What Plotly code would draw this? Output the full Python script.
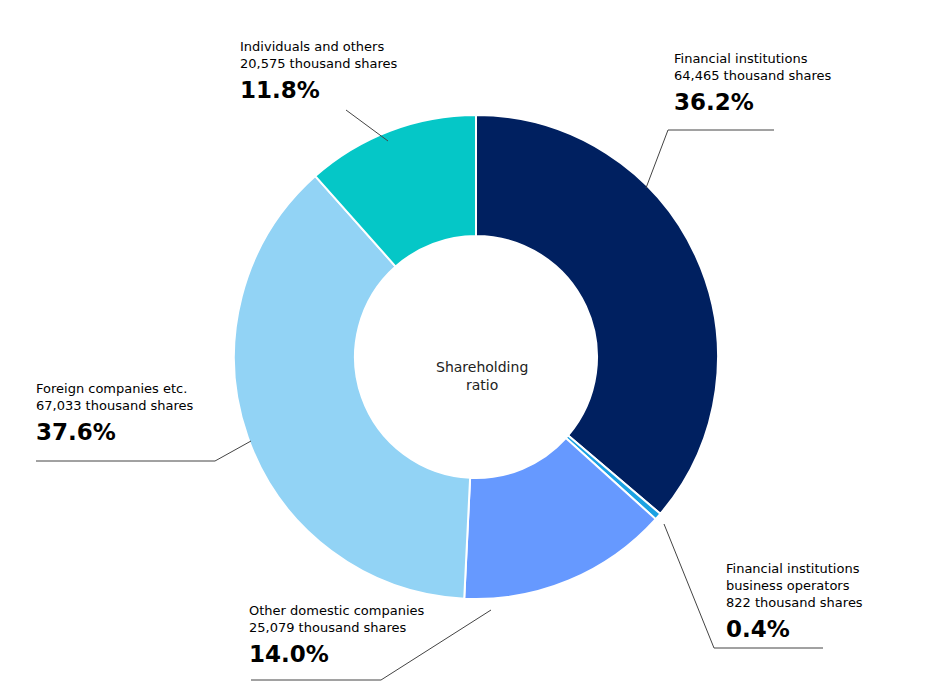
import plotly.graph_objects as go

W, H = 928, 691
categories = ["Financial institutions", "Financial institutions<br>business operators",
              "Other domestic companies", "Foreign companies etc.", "Individuals and others"]
shares = [64465, 822, 25079, 67033, 20575]
pct_labels = ["36.2%", "0.4%", "14.0%", "37.6%", "11.8%"]
colors = ["#002060", "#1BA1E2", "#6699FF", "#92D3F5", "#05C7C7"]

# label top-left positions (px) and leader line polylines (px)
label_pos = [(664, 41), (716, 551), (239, 593), (26, 371), (230, 29)]
leaders = [[(638, 180), (660, 122), (766, 122)],
           [(656, 516), (706, 640), (815, 640)],
           [(483, 602), (373, 672), (243, 672)],
           [(243, 433), (207, 453), (28, 453)],
           [(380, 133), (338, 102)]]

def px(x, y):
    return x / W, 1 - y / H

fig = go.Figure(go.Pie(
    values=shares, labels=categories, sort=False, direction="clockwise", rotation=0,
    hole=0.5, marker=dict(colors=colors, line=dict(color="white", width=2)),
    textinfo="none", hoverinfo="label+value+percent",
    domain=dict(x=[226 / W, 710 / W], y=[1 - 591 / H, 1 - 107 / H]),
))

font = "DejaVu Sans, Verdana, sans-serif"
for cat, val, pct, (lx, ly), pts in zip(categories, shares, pct_labels, label_pos, leaders):
    nlines = cat.count("<br>") + 2
    x, y = px(lx, ly)
    fig.add_annotation(
        x=x, y=y, xref="paper", yref="paper", xanchor="left", yanchor="top",
        align="left", showarrow=False,
        text=f"{cat}<br>{val:,} thousand shares",
        font=dict(family=font, color="#000", size=13))
    x2, y2 = px(lx, ly + 17 * nlines + 4)
    fig.add_annotation(
        x=x2, y=y2, xref="paper", yref="paper", xanchor="left", yanchor="top",
        showarrow=False, text=f"<b>{pct}</b>",
        font=dict(family=font, color="#000", size=23))
    path = "M " + " L ".join(f"{px(a, b)[0]},{px(a, b)[1]}" for a, b in pts)
    fig.add_shape(type="path", path=path, xref="paper", yref="paper",
                  line=dict(color="#444", width=1))

cx, cy = px(474, 368)
fig.add_annotation(x=cx, y=cy, xref="paper", yref="paper", showarrow=False,
                   text="Shareholding<br>ratio", font=dict(family=font, size=14, color="#222"))

fig.update_layout(width=W, height=H, margin=dict(l=0, r=0, t=0, b=0),
                  showlegend=False, paper_bgcolor="white", plot_bgcolor="white")
fig.write_html("out.html")
